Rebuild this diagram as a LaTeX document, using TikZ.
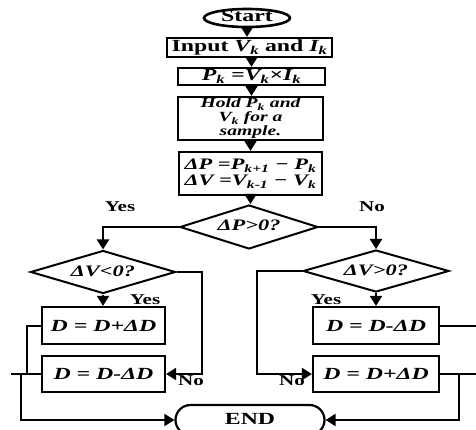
\documentclass[tikz,border=0pt]{standalone}
\usepackage{fontspec}
\setmainfont{Liberation Serif}[FakeStretch=1.4]
\usetikzlibrary{shapes.geometric,shapes.misc,arrows.meta}
\newcommand\sbk[1]{\textsubscript{#1}}
\begin{document}
\begin{tikzpicture}[x=1pt,y=-1pt,
  font=\fontsize{17}{17}\selectfont\bfseries,
  box/.style={draw, line width=2.2pt, rectangle, inner sep=0pt, align=center},
  itf/.style={font=\fontsize{17}{17}\selectfont\bfseries\itshape},
  dia/.style={draw, line width=2pt, diamond, inner sep=0pt, text height=10pt, text depth=2pt, font=\fontsize{16}{16}\selectfont\bfseries\itshape},
  arr/.style={line width=2pt, -{Triangle[length=10pt,width=12pt]}},
  ln/.style={line width=2pt},
  lbl/.style={font=\fontsize{15}{15}\selectfont\bfseries, inner sep=0pt}]
\useasboundingbox (0,0) rectangle (476,430);
\node[box, ellipse, minimum width=86pt, minimum height=18pt, text height=9pt, text depth=1pt, line width=2.6pt] (start) at (247,18) {Start};
\node[box, minimum width=165pt, minimum height=19pt] (input) at (249.5,47.5) {Input \textit{V\sbk{k}} and \textit{I\sbk{k}}};
\node[box, minimum width=147pt, minimum height=17pt, itf] (pk) at (251.5,76.5) {P\sbk{k} =V\sbk{k}×I\sbk{k}};
\node[box, minimum width=145pt, minimum height=43pt, font=\fontsize{14}{14}\selectfont\bfseries\itshape] (hold) at (250.5,118.5) {Hold P\sbk{k} and\\V\sbk{k} for a\\sample.};
\node[box, minimum width=143pt, minimum height=43pt, font=\fontsize{16}{16}\selectfont\bfseries\itshape] (dp) at (250.5,173.5) {ΔP =P\sbk{k+1} − P\sbk{k}\\ΔV =V\sbk{k-1} − V\sbk{k}};
\node[dia, minimum width=138pt, minimum height=44pt, aspect=3.1] (d1) at (249,227) {ΔP>0?};
\node[dia, minimum width=145pt, minimum height=43pt, aspect=3.3] (d2) at (103,272) {ΔV<0?};
\node[dia, minimum width=146pt, minimum height=42pt, aspect=3.4] (d3) at (376,271) {ΔV>0?};
\node[box, minimum width=123pt, minimum height=37pt, itf] (lb1) at (103.5,325.5) {D = D+ΔD};
\node[box, minimum width=123pt, minimum height=36pt, itf] (lb2) at (103.5,374) {D = D-ΔD};
\node[box, minimum width=126pt, minimum height=37pt, itf] (rb1) at (376,325.5) {D = D-ΔD};
\node[box, minimum width=126pt, minimum height=36pt, itf] (rb2) at (376,374) {D = D+ΔD};
\node[draw, line width=2.2pt, rounded rectangle, inner sep=0pt, minimum width=149pt, minimum height=30pt, text height=10pt, text depth=1pt] (end) at (250,420) {END};
\coordinate (r1) at (476,325.5);
\coordinate (r2) at (476,374);
% main column
\draw[arr] (start.south) -- (start.south |- input.north);
\draw[arr] (pk.north |- input.south) -- (pk.north);
\draw[arr] (pk.south) -- (pk.south |- hold.north);
\draw[arr] (hold.south) -- (hold.south |- dp.north);
\draw[arr] (dp.south) -- (dp.south |- d1.north);
% branches
\draw[arr] (d1.west) -| (d2.north);
\draw[arr] (d1.east) -| (d3.north);
\draw[arr] (d2.south) -- (d2.south |- lb1.north);
\draw[arr] (d3.south) -- (d3.south |- rb1.north);
\draw[arr] (d2.east) -- ++(25,0) |- (lb2.east);
\draw[arr] (d3.west) -- ++(-45,0) |- (rb2.west);
% left return
\draw[ln] (lb1.west) -- ++(-14,0) coordinate (j1) -- (j1 |- lb2.west);
\draw[ln] (lb2.west) -- ++(-30,0);
\draw[arr] ([xshift=-20pt]lb2.west) |- (end.west);
% right return
\draw[ln] (rb1.east) -- (r1);
\draw[ln] (rb2.east) -- (r2);
\draw[arr] (rb2.east) -- ++(19,0) |- (end.east);
% labels
\node[lbl] (y1) at (120,207) {Yes};
\node[lbl] (n1) at (372,207) {No};
\node[lbl] (y2) at (145,300) {Yes};
\node[lbl] (y3) at (326,300) {Yes};
\node[lbl] (n2) at (191,381) {No};
\node[lbl] (n3) at (292,381) {No};
\end{tikzpicture}
\end{document}
